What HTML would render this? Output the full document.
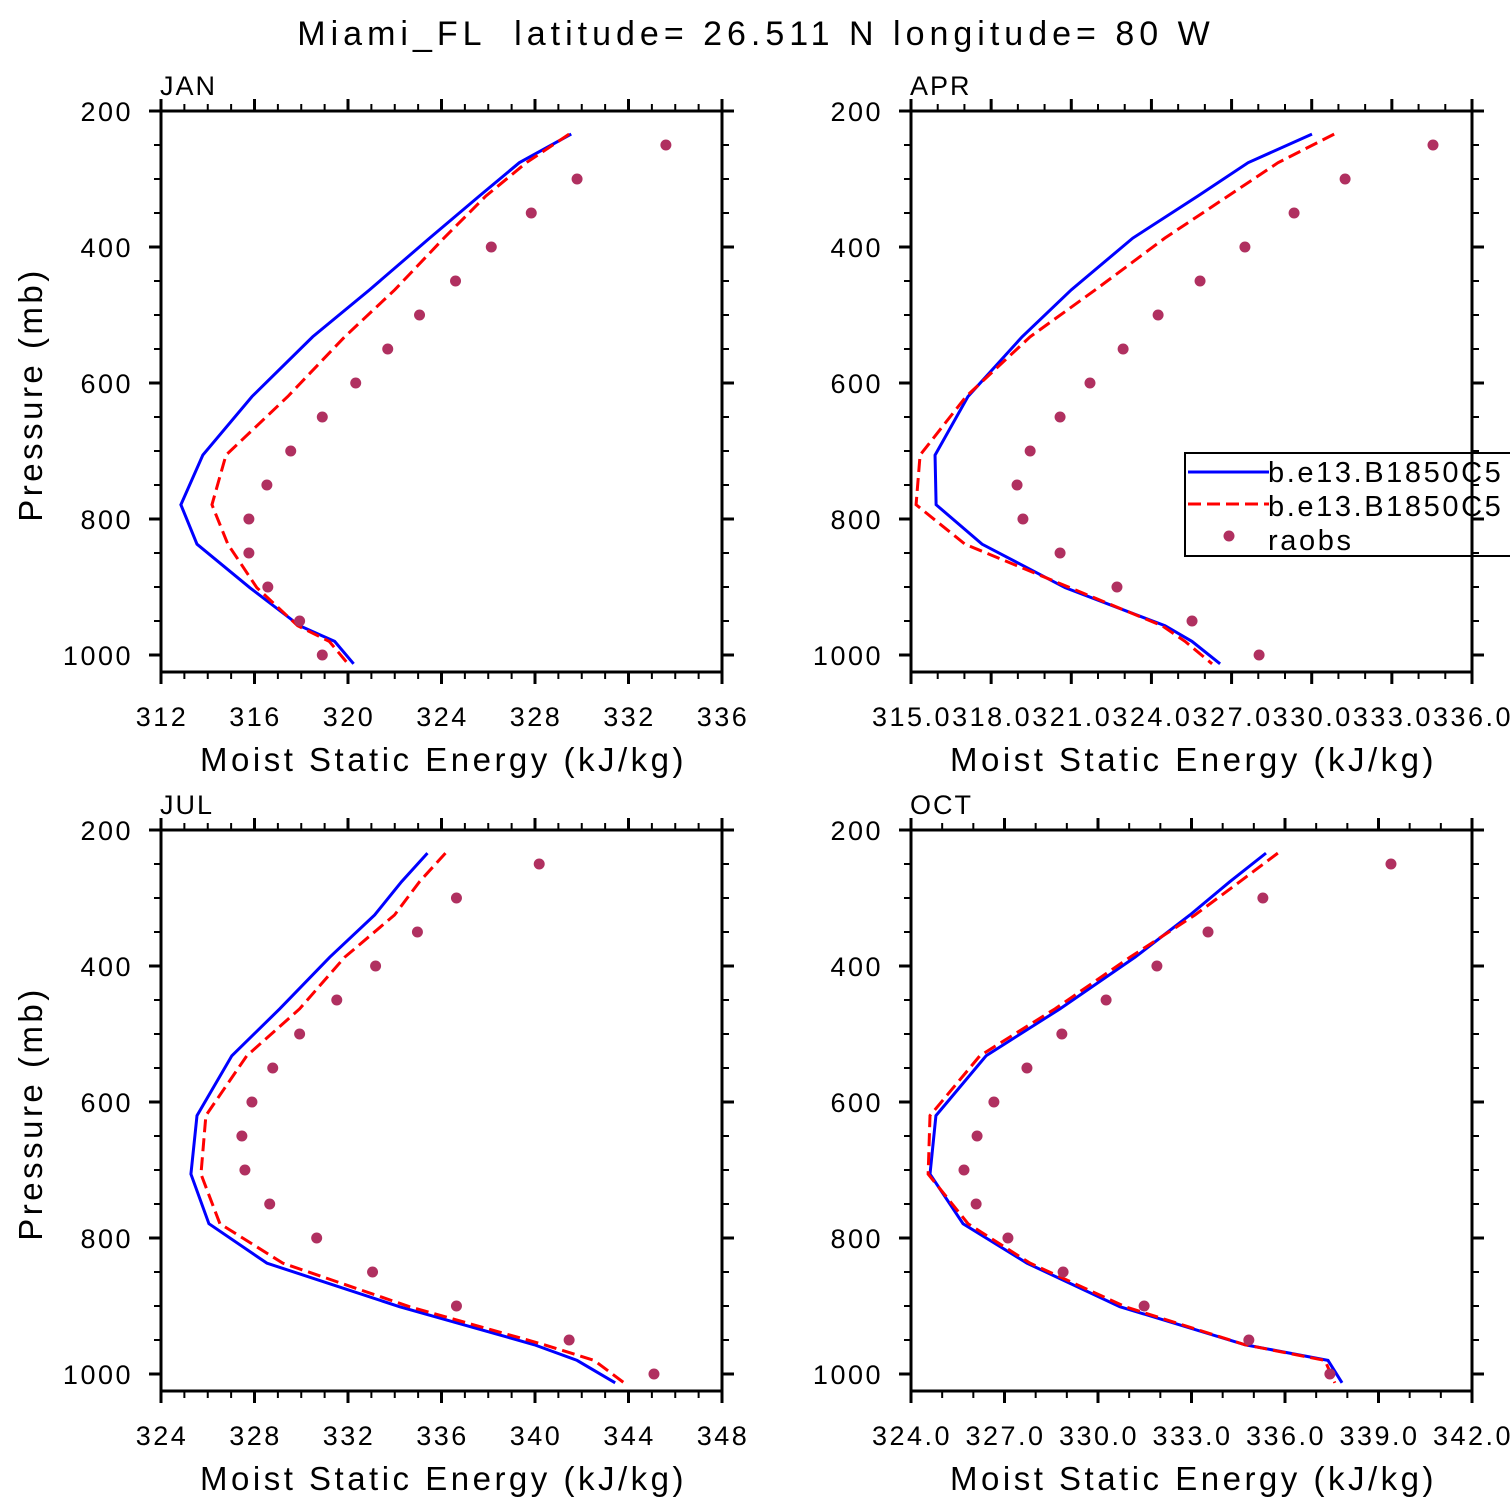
<!DOCTYPE html>
<html><head><meta charset="utf-8"><style>
html,body{margin:0;padding:0;background:#fff}
svg{display:block;font-family:"Liberation Sans",sans-serif}
</style></head><body>
<svg id="chart" width="1510" height="1510" viewBox="0 0 1510 1510" xmlns="http://www.w3.org/2000/svg">
<text x="756" y="45" text-anchor="middle" font-size="34" fill="#000" letter-spacing="5" style="white-space:pre">Miami_FL  latitude= 26.511 N longitude= 80 W</text>
</svg>
<script>
const modelLevels=[234,276,325,387,463,532,620,706,779,837,901,957,980,1013];
const obsLevels=[250,300,350,400,450,500,550,600,650,700,750,800,850,900,950,1000];
const janBlue=[329.55,327.33,325.62,323.49,320.92,318.49,315.89,313.79,312.85,313.54,315.8,317.93,319.43,320.24];
const janRed=[329.46,327.63,325.9,324.1,322.0,319.86,317.42,314.78,314.18,314.86,316.1,317.85,319.2,320.0];
const janObs=[333.6,329.8,327.84,326.13,324.6,323.06,321.7,320.33,318.9,317.55,316.53,315.76,315.76,316.57,317.93,318.9];
const aprBlue=[330.01,327.62,325.74,323.3,321.0,319.16,317.13,315.9,315.94,317.66,320.77,324.51,325.52,326.57];
const aprRed=[330.84,328.74,326.87,324.5,321.9,319.46,317.06,315.34,315.19,317.02,320.95,324.4,325.26,326.27];
const aprObs=[334.54,331.25,329.34,327.5,325.82,324.25,322.94,321.7,320.58,319.46,318.97,319.19,320.58,322.71,325.52,328.03];
const julBlue=[335.4,334.29,333.14,331.22,329.08,327.03,325.54,325.28,326.05,328.53,334.2,339.97,341.8,343.43];
const julRed=[336.17,335.06,333.99,331.86,329.93,327.67,325.92,325.71,326.52,329.21,334.63,340.4,342.53,343.81];
const julObs=[340.18,336.64,334.97,333.18,331.52,329.93,328.78,327.89,327.46,327.59,328.65,330.66,333.05,336.64,341.46,345.09];
const octBlue=[335.39,334.23,332.95,331.19,328.78,326.41,324.8,324.61,325.67,327.72,330.7,334.72,337.38,337.83];
const octRed=[335.77,334.55,333.11,331.03,328.62,326.21,324.61,324.55,325.83,327.82,330.87,334.72,337.28,337.6];
const octObs=[339.4,335.29,333.53,331.89,330.26,328.84,327.72,326.66,326.12,325.7,326.09,327.11,328.88,331.48,334.84,337.44];
const yTicks=[200,400,600,800,1000];
const janXTicks=["312","316","320","324","328","332","336"];
const aprXTicks=["315.0","318.0","321.0","324.0","327.0","330.0","333.0","336.0"];
const julXTicks=["324","328","332","336","340","344","348"];
const octXTicks=["324.0","327.0","330.0","333.0","336.0","339.0","342.0"];
const legendLabels=["b.e13.B1850C5","b.e13.B1850C5","raobs"];

const NS="http://www.w3.org/2000/svg";
const svg=document.getElementById('chart');
function mk(tag,attrs,parent){const e=document.createElementNS(NS,tag);for(const k in attrs)e.setAttribute(k,attrs[k]);(parent||svg).appendChild(e);return e;}

function panel(key,title,L,T,xmin,xmax,xTickLabels,major,blue,red,obs,showYTitle){
  const W=561,H=561;
  const g=mk('g',{});
  
  
  const xs=v=>L+(v-xmin)/(xmax-xmin)*W;
  const ys=p=>T+(p-200)*0.68;
  const t=mk('text',{x:L-1,y:T-16,'font-size':27,'letter-spacing':2},g);t.textContent=title;
  
  
  const pb=blue.map((v,i)=>xs(v)+','+ys(modelLevels[i])).join(' ');
  const lb=mk('polyline',{points:pb,fill:'none',stroke:'#0000ff','stroke-width':3},g);
  
  
  const pr=red.map((v,i)=>xs(v)+','+ys(modelLevels[i])).join(' ');
  const lr=mk('polyline',{points:pr,fill:'none',stroke:'#ff0000','stroke-width':3,'stroke-dasharray':'13,6'},g);
  
  
  obs.forEach((v,i)=>{
    const c=mk('circle',{cx:xs(v),cy:ys(obsLevels[i]),r:5.5,fill:'#b03060'},g);
    
    
  });
  if(key==='apr'){
    const lg=mk('g',{},g);
    
    
    mk('rect',{x:1185,y:453,width:330,height:103,fill:'#fff',stroke:'#000','stroke-width':2},lg);
    mk('line',{x1:1188,y1:472,x2:1269,y2:472,stroke:'#0000ff','stroke-width':3},lg);
    mk('line',{x1:1188,y1:504,x2:1269,y2:504,stroke:'#ff0000','stroke-width':3,'stroke-dasharray':'13,6'},lg);
    mk('circle',{cx:1229,cy:536,r:5.5,fill:'#b03060'},lg);
    legendLabels.forEach((s,i)=>{
      const tx=mk('text',{x:1268,y:482+i*34,'font-size':29,'letter-spacing':2.6},lg);tx.textContent=s;
      
      
    });
  }
  mk('rect',{x:L,y:T,width:W,height:H,fill:'none',stroke:'#000','stroke-width':3},g);
  for(let v=xmin;v<=xmax+1e-6;v+=1){
    const isMaj=Math.abs(((v-xmin)/major)-Math.round((v-xmin)/major))<1e-6;
    const len=isMaj?12:7,x=xs(v);
    mk('line',{x1:x,y1:T,x2:x,y2:T-len,stroke:'#000','stroke-width':isMaj?3:2},g);
    mk('line',{x1:x,y1:T+H,x2:x,y2:T+H+len,stroke:'#000','stroke-width':isMaj?3:2},g);
  }
  xTickLabels.forEach((s,i)=>{
    const v=xmin+i*major;
    const tx=mk('text',{x:xs(v)+1,y:T+H+54,'font-size':27,'text-anchor':'middle','letter-spacing':2.5},g);tx.textContent=s;
    
    
  });
  for(let p=200;p<=1000;p+=50){
    const isMaj=p%200===0,len=isMaj?12:7,y=ys(p);
    mk('line',{x1:L,y1:y,x2:L-len,y2:y,stroke:'#000','stroke-width':isMaj?3:2},g);
    mk('line',{x1:L+W,y1:y,x2:L+W+len,y2:y,stroke:'#000','stroke-width':isMaj?3:2},g);
  }
  yTicks.forEach(p=>{
    const tx=mk('text',{x:L-28,y:ys(p)+10,'font-size':27,'text-anchor':'end','letter-spacing':2.5},g);tx.textContent=String(p);
    
    
  });
  const xt=mk('text',{x:L+W/2+2,y:T+H+99,'font-size':33,'text-anchor':'middle','letter-spacing':3.5},g);xt.textContent='Moist Static Energy (kJ/kg)';
  
  
  if(showYTitle){
    const yt=mk('text',{x:0,y:0,'font-size':33,'text-anchor':'middle','letter-spacing':3.5,transform:'translate(42,'+(T+H/2+3)+') rotate(-90)'},g);yt.textContent='Pressure (mb)';
    
    
  }
}
panel('jan','JAN',161,111,312,336,janXTicks,4,janBlue,janRed,janObs,true);
panel('apr','APR',911,111,315,336,aprXTicks,3,aprBlue,aprRed,aprObs,false);
panel('jul','JUL',161,830,324,348,julXTicks,4,julBlue,julRed,julObs,true);
panel('oct','OCT',911,830,324,342,octXTicks,3,octBlue,octRed,octObs,false);
</script>
</body></html>
